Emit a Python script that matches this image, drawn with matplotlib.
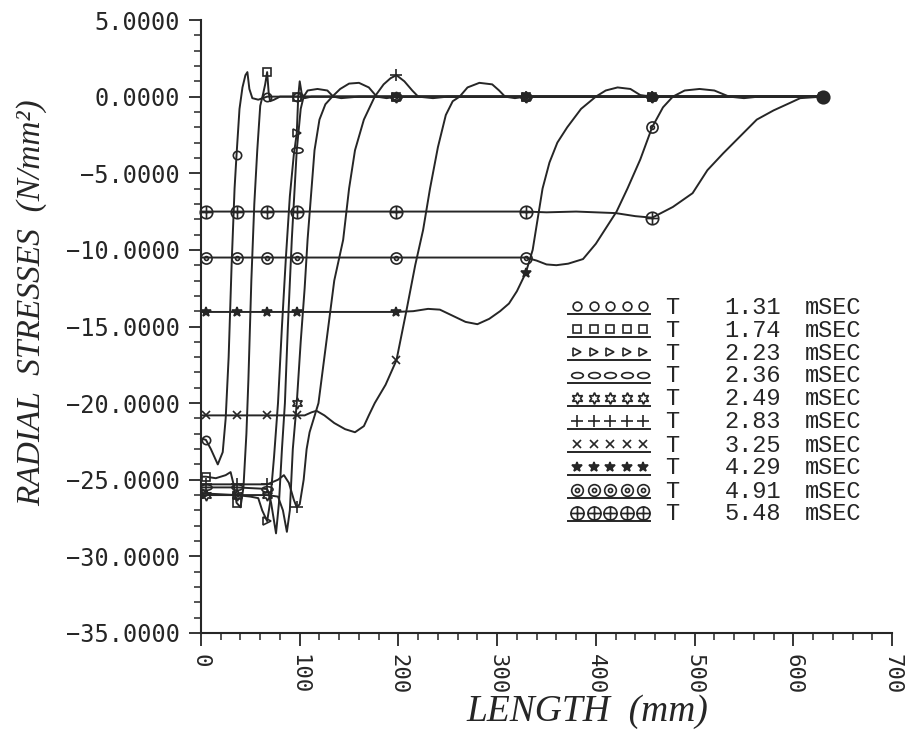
import matplotlib

matplotlib.use("Agg")
import matplotlib.pyplot as plt
import numpy as np
from matplotlib.lines import Line2D
from matplotlib.path import Path
from matplotlib.ticker import FuncFormatter, MultipleLocator
from matplotlib.transforms import Affine2D

# ---- data (length in mm, radial stress in N/mm^2) ----
TIMES = ["1.31", "1.74", "2.23", "2.36", "2.49", "2.83", "3.25", "4.29", "4.91", "5.48"]
NODES = [5, 36, 67, 97, 198, 329, 457, 630]  # positions where the symbols are drawn

X_131 = [0, 5, 10, 17, 22, 25, 28, 31, 34, 36, 39, 42, 45, 47, 49, 52, 58, 67, 80, 97, 198, 329, 457, 630]
Y_131 = [-22.3, -22.4, -23.0, -24.0, -23.2, -21.0, -17.0, -11.0, -6.0, -3.8, -0.8, 0.6, 1.4, 1.6, 0.5,
         -0.1, -0.2, 0.0, 0.0, 0.0, 0.0, 0.0, 0.0, 0.0]

X_174 = [0, 5, 15, 25, 30, 33, 36, 40, 43, 46, 48, 51, 54, 57, 60, 63, 65, 67, 68.5, 70, 74, 80, 97, 198,
         329, 457, 630]
Y_174 = [-24.8, -24.8, -24.9, -24.7, -24.5, -25.3, -26.5, -26.8, -25.5, -22.0, -18.5, -12.0, -7.0, -3.5,
         -0.6, 0.2, 0.8, 1.6, 0.3, -0.3, -0.2, 0.0, 0.0, 0.0, 0.0, 0.0, 0.0]

X_223 = [0, 5, 36, 50, 58, 62, 67, 70, 74, 78, 82, 86, 90, 94, 97, 98.5, 100, 102, 105, 112, 198, 329,
         457, 630]
Y_223 = [-25.9, -25.9, -26.0, -26.1, -26.2, -27.0, -27.7, -26.5, -23.5, -20.0, -15.0, -10.5, -6.5, -3.8,
         -2.4, 0.0, 1.0, 0.2, -0.1, 0.0, 0.0, 0.0, 0.0, 0.0]

X_236 = [0, 5, 36, 67, 71, 76, 79, 82, 85, 88, 92, 97, 101, 104, 108, 118, 128, 134, 142, 160, 198, 329,
         457, 630]
Y_236 = [-25.5, -25.5, -25.5, -25.6, -26.5, -28.5, -26.5, -23.0, -20.0, -15.0, -9.3, -3.5, -0.8, 0.0, 0.4,
         0.5, 0.4, 0.0, -0.1, 0.0, 0.0, 0.0, 0.0, 0.0]

X_249 = [0, 5, 36, 67, 78, 83, 87, 90, 93, 97, 101, 105, 108, 115, 120, 126, 133, 141, 150, 160, 170,
         178, 188, 198, 329, 457, 630]
Y_249 = [-26.0, -26.0, -26.0, -26.0, -26.1, -27.0, -28.4, -27.0, -23.0, -20.0, -16.0, -12.5, -9.3, -3.5,
         -1.5, -0.5, 0.0, 0.5, 0.85, 0.9, 0.6, 0.0, -0.1, 0.0, 0.0, 0.0, 0.0]

X_283 = [0, 5, 36, 67, 78, 84, 89, 94, 97, 100, 104, 107, 110, 119, 125, 135, 144, 150, 156, 165, 176,
         185, 192, 198, 206, 214, 220, 235, 250, 329, 457, 630]
Y_283 = [-25.3, -25.3, -25.3, -25.3, -25.0, -24.7, -25.2, -26.3, -26.8, -26.6, -25.0, -23.0, -21.9,
         -20.0, -17.0, -12.0, -9.35, -6.0, -3.5, -1.5, 0.0, 0.8, 1.2, 1.4, 1.0, 0.4, 0.0, -0.1, 0.0, 0.0,
         0.0, 0.0]

X_325 = [0, 5, 36, 67, 97, 105, 112, 117, 125, 135, 146, 156, 165, 170, 176, 187, 198, 208, 217, 225,
         232, 240, 248, 255, 262, 270, 282, 295, 302, 308, 318, 329, 457, 630]
Y_325 = [-20.8, -20.8, -20.8, -20.8, -20.8, -20.8, -20.6, -20.5, -20.8, -21.3, -21.7, -21.9, -21.5,
         -20.8, -20.0, -18.8, -17.2, -14.0, -11.0, -8.7, -6.0, -3.3, -1.2, -0.3, 0.0, 0.6, 0.9, 0.8, 0.4,
         0.0, -0.1, 0.0, 0.0, 0.0]

X_429 = [0, 5, 36, 67, 97, 198, 215, 230, 242, 255, 268, 280, 292, 303, 312, 320, 329, 336, 341, 346,
         353, 361, 371, 385, 400, 410, 422, 435, 445, 457, 630]
Y_429 = [-14.05, -14.05, -14.05, -14.05, -14.05, -14.05, -14.0, -13.85, -13.9, -14.3, -14.7, -14.85,
         -14.5, -14.0, -13.5, -12.7, -11.5, -10.0, -8.0, -6.0, -4.3, -3.0, -2.0, -0.8, 0.0, 0.4, 0.6, 0.5,
         0.1, 0.0, 0.0]

X_491 = [0, 5, 36, 67, 97, 198, 329, 340, 350, 360, 372, 387, 400, 410, 421, 432, 445, 457, 468, 478,
         490, 505, 520, 535, 550, 565, 630]
Y_491 = [-10.5, -10.5, -10.5, -10.5, -10.5, -10.5, -10.5, -10.7, -10.95, -11.0, -10.9, -10.6, -9.6,
         -8.6, -7.5, -6.0, -4.1, -2.0, -0.7, 0.0, 0.4, 0.5, 0.4, 0.0, -0.1, 0.0, 0.0]

X_548 = [0, 5, 36, 67, 97, 198, 329, 350, 380, 420, 440, 457, 478, 498, 513, 529, 546, 563, 580, 597,
         607, 630]
Y_548 = [-7.5, -7.5, -7.5, -7.5, -7.5, -7.5, -7.5, -7.55, -7.5, -7.6, -7.8, -7.9, -7.2, -6.3, -4.8, -3.7,
         -2.6, -1.5, -0.9, -0.4, -0.1, 0.0]

CURVES_X = [X_131, X_174, X_223, X_236, X_249, X_283, X_325, X_429, X_491, X_548]
CURVES_Y = [Y_131, Y_174, Y_223, Y_236, Y_249, Y_283, Y_325, Y_429, Y_491, Y_548]

# ---- marker shapes ----
circ = Path.unit_circle()
ellipse = circ.transformed(Affine2D().scale(1.6, 0.8))
dotted_circ = Path.make_compound_path(circ, circ.transformed(Affine2D().scale(0.35)))
plus_circ = Path.make_compound_path(circ, Path([(-1, 0), (1, 0)]), Path([(0, -1), (0, 1)]))

MARKERS = [
    dict(marker="o", ms=6),
    dict(marker="s", ms=6),
    dict(marker=">", ms=6),
    dict(marker=ellipse, ms=8),
    dict(marker=(6, 1, 0), ms=8),
    dict(marker="+", ms=8),
    dict(marker="x", ms=6),
    dict(marker="*", ms=7, filled=True),
    dict(marker=dotted_circ, ms=8),
    dict(marker=plus_circ, ms=9),
]

INK = "#262626"
MONO = "DejaVu Sans Mono"
LEG = "Liberation Mono"
SERIF = "Liberation Serif"

W, H = 906, 735
fig = plt.figure(figsize=(W / 100, H / 100), dpi=100, facecolor="white")
ax = fig.add_axes([201 / W, 1 - 633 / H, 691 / W, 613 / H])

for x, y, mk in zip(CURVES_X, CURVES_Y, MARKERS):
    x = np.asarray(x, dtype=float)
    idx = list(np.nonzero(np.isin(x, NODES))[0])
    filled = mk.get("filled", False)
    ax.plot(x, y, color=INK, lw=1.4, marker=mk["marker"], ms=mk["ms"], markevery=idx,
            mfc=INK if filled else "none", mec=INK, mew=1.2, clip_on=False, zorder=3)

ax.set_xlim(0, 700)
ax.set_ylim(-35, 5)
for s in ("top", "right"):
    ax.spines[s].set_visible(False)
for s in ("left", "bottom"):
    ax.spines[s].set_linewidth(1.5)
    ax.spines[s].set_color(INK)

ax.xaxis.set_major_locator(MultipleLocator(100))
ax.xaxis.set_minor_locator(MultipleLocator(20))
ax.yaxis.set_major_locator(MultipleLocator(5))
ax.yaxis.set_minor_locator(MultipleLocator(1))
ax.yaxis.set_major_formatter(FuncFormatter(lambda v, _: f"{v:.4f}".replace("-", "\u2212")))
ax.tick_params(which="major", length=9, width=1.3, color=INK, direction="out", pad=6)
ax.tick_params(which="minor", length=5, width=1.1, color=INK, direction="out")
for lab in ax.get_yticklabels():
    lab.set_fontfamily(MONO)
    lab.set_fontsize(17)
    lab.set_color(INK)
for lab in ax.get_xticklabels():
    lab.set_fontfamily(MONO)
    lab.set_fontsize(16)
    lab.set_color(INK)
    lab.set_rotation(-90)

fig.text(587 / W, 1 - 712 / H, "LENGTH  (mm)", fontfamily=SERIF, style="italic",
         fontsize=27, color=INK, ha="center", va="center")
fig.text(32 / W, 1 - 303 / H, "RADIAL  STRESSES  (N/mm²)", fontfamily=SERIF, style="italic",
         fontsize=24, color=INK, ha="center", va="center", rotation=90)

# ---- hand-drawn style legend on the right ----
for i, (t, mk) in enumerate(zip(TIMES, MARKERS)):
    yc = 307 + i * 23
    fy = 1 - yc / H
    fig.add_artist(Line2D([568 / W, 650 / W], [1 - (yc + 7) / H] * 2, transform=fig.transFigure,
                          color=INK, lw=1.4))
    filled = mk.get("filled", False)
    fig.add_artist(Line2D([p / W for p in (577, 593.5, 610, 626.5, 643)], [1 - (yc - 1) / H] * 5,
                          transform=fig.transFigure, lw=0, marker=mk["marker"],
                          ms=mk["ms"] * 1.05, mfc=INK if filled else "none", mec=INK, mew=1.2))
    fig.text(672 / W, fy, "T", fontfamily=LEG, fontsize=17, color=INK, ha="center", va="center")
    fig.text(781 / W, fy, t, fontfamily=LEG, fontsize=17, color=INK, ha="right", va="center")
    fig.text(805 / W, fy, "mSEC", fontfamily=LEG, fontsize=17, color=INK, ha="left", va="center")

fig.savefig("out.png", dpi=100, facecolor="white")
